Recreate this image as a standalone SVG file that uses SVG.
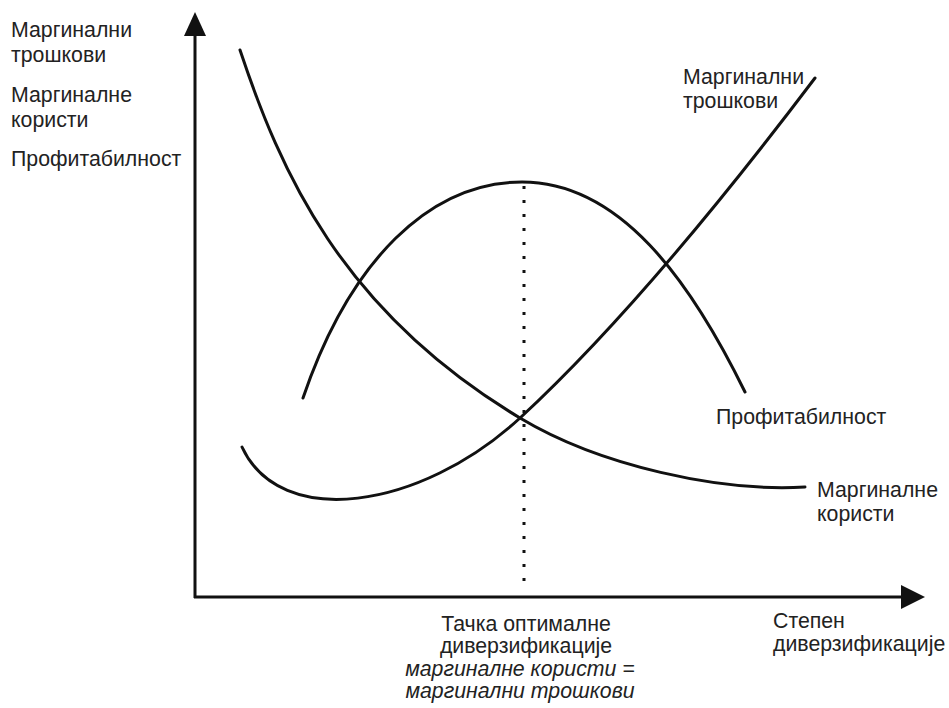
<svg xmlns="http://www.w3.org/2000/svg" width="949" height="708" viewBox="0 0 949 708">
  <style>
    .lbl { font-family: "Liberation Sans", Arial, sans-serif; font-size: 21.3px; fill: #222; }
    .it { font-style: italic; }
    .axis { stroke: #111; stroke-width: 3; fill: none; }
    .curve { stroke: #111; stroke-width: 3; fill: none; stroke-linecap: round; }
    .dots { stroke: #111; stroke-width: 3; stroke-dasharray: 3 11; fill: none; }
  </style>
  <rect width="949" height="708" fill="#fff"/>

  <!-- axes -->
  <g id="axes">
    <line class="axis" x1="195" y1="30" x2="195" y2="598"/>
    <polygon points="195,12 184,36 206,36" fill="#111"/>
    <line class="axis" x1="194" y1="597" x2="905" y2="597"/>
    <polygon points="925,597 901,585 901,609" fill="#111"/>
  </g>

  <!-- y-axis labels -->
  <g id="y-labels">
    <text class="lbl" x="11" y="37">Маргинални</text>
    <text class="lbl" x="11" y="62">трошкови</text>
    <text class="lbl" x="11" y="102">Маргиналне</text>
    <text class="lbl" x="11" y="127">користи</text>
    <text class="lbl" x="11" y="166">Профитабилност</text>
  </g>

  <g id="connectors">
    <!-- marginal benefits -->
    <path id="mb-curve" class="curve" d="M240,50 C280,170 340,310 520,418 C600,466 720,492 805,487"/>
    <!-- marginal costs -->
    <path id="mc-curve" class="curve" d="M242,447 C280,530 420,510 520,418 C600,344 700,230 815,78"/>
    <!-- profitability -->
    <path id="profit-curve" class="curve" d="M303,398 C350,260 430,182 522,182 C620,182 690,280 745,392"/>
    <!-- optimum marker -->
    <line class="dots" x1="524" y1="186" x2="524" y2="590"/>
  </g>

  <g id="mc-label">
    <text class="lbl" x="683" y="84">Маргинални</text>
    <text class="lbl" x="683" y="108">трошкови</text>
  </g>
  <g id="profit-label">
    <text class="lbl" x="716" y="424">Профитабилност</text>
  </g>
  <g id="mb-label">
    <text class="lbl" x="817" y="497">Маргиналне</text>
    <text class="lbl" x="817" y="521">користи</text>
  </g>

  <g id="optimum-label">
    <text class="lbl" x="526" y="631" text-anchor="middle">Тачка оптималне</text>
    <text class="lbl" x="526" y="653" text-anchor="middle">диверзификације</text>
    <text class="lbl it" x="520" y="676" text-anchor="middle">маргиналне користи =</text>
    <text class="lbl it" x="520" y="698" text-anchor="middle">маргинални трошкови</text>
  </g>

  <g id="x-label">
    <text class="lbl" x="773" y="628">Степен</text>
    <text class="lbl" x="773" y="651">диверзификације</text>
  </g>
</svg>
